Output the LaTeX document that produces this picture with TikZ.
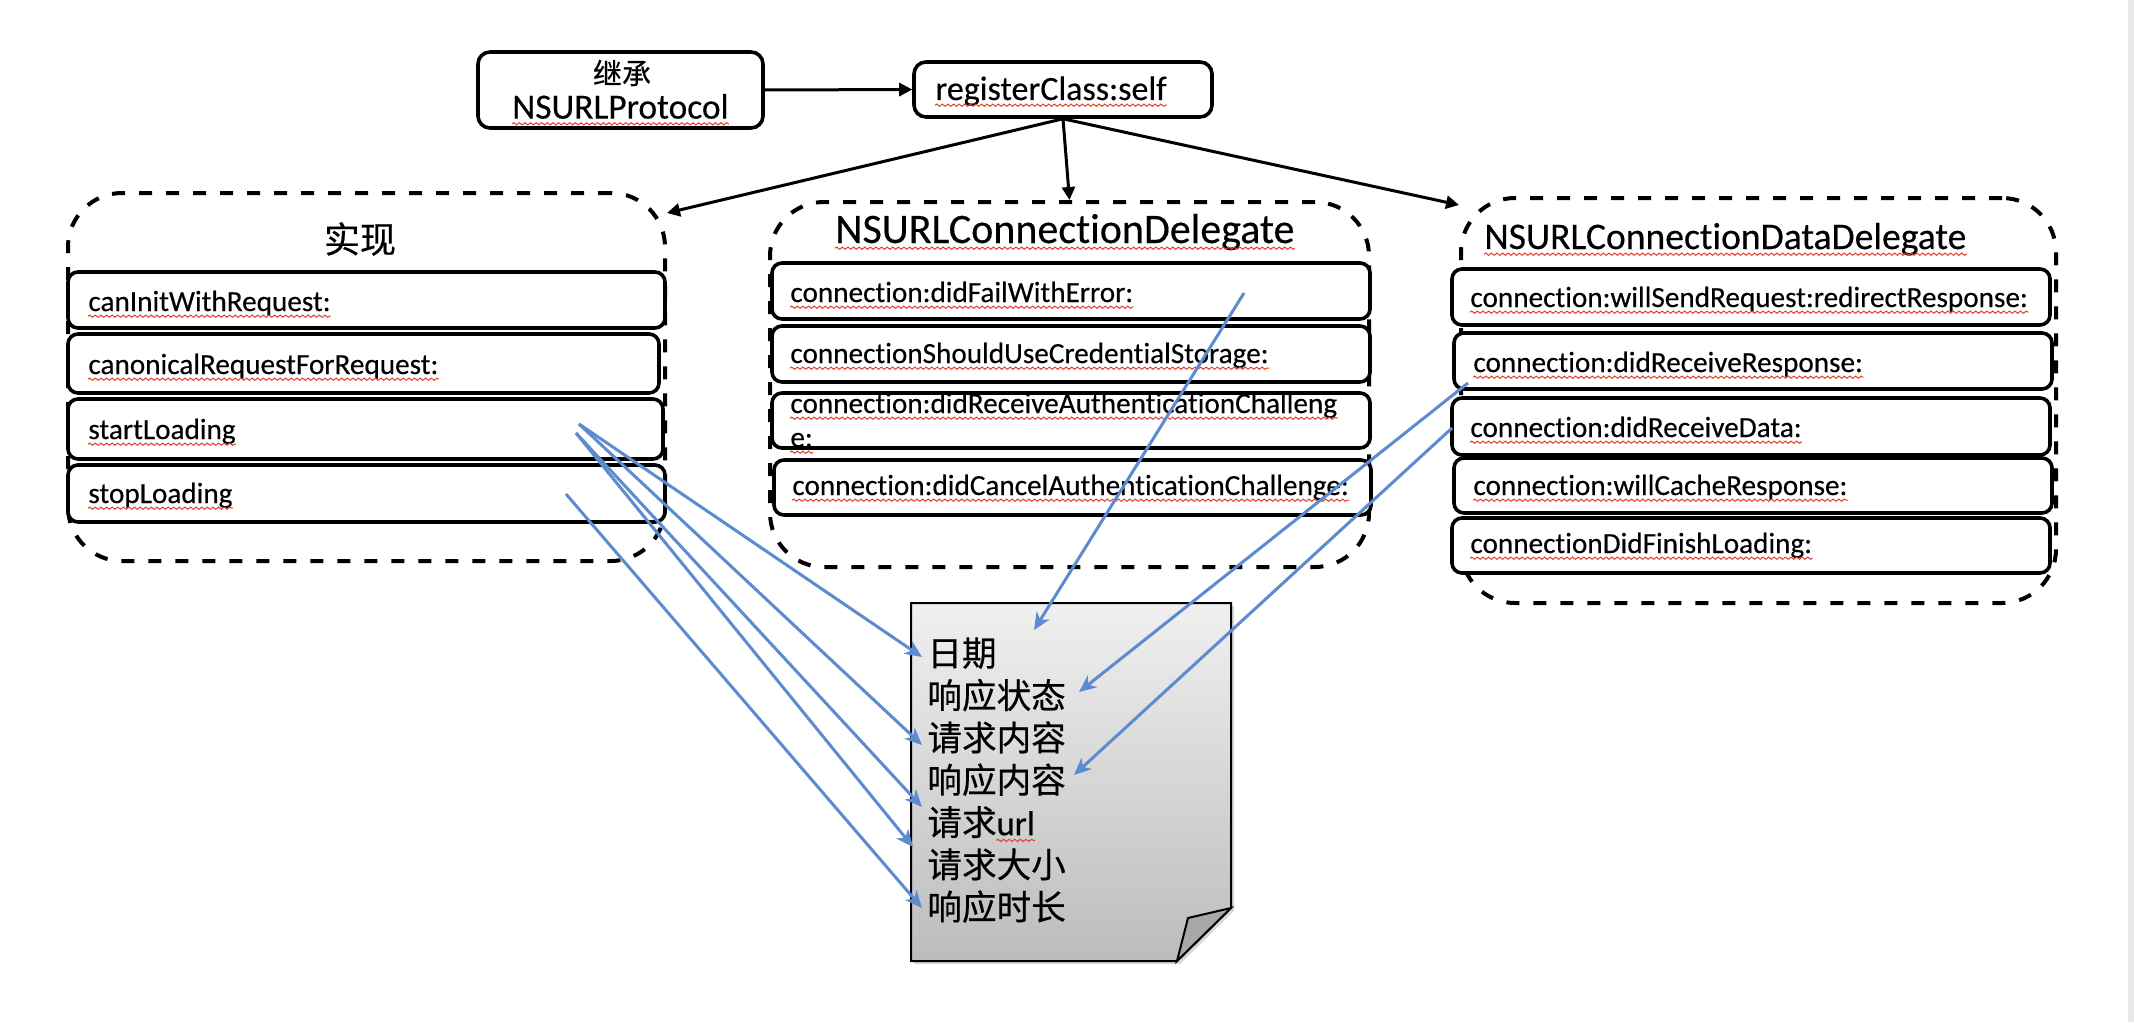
\documentclass[tikz,border=0pt]{standalone}
\usepackage{fontspec}
\setmainfont{Carlito}[Ligatures=NoCommon, FakeBold=0.35]
\newfontfamily\cjk{Noto Sans CJK SC}[FakeBold=0.5]
\newfontfamily\urlfont{Carlito}[Ligatures=NoCommon, FakeBold=0.5]
\usetikzlibrary{arrows.meta,decorations.pathmorphing,shadows}
\definecolor{bluec}{RGB}{93,139,207}
\definecolor{squigred}{RGB}{228,62,42}
\definecolor{docTop}{RGB}{240,240,240}
\definecolor{docBot}{RGB}{188,188,188}
\newcommand\fsz[1]{\fontsize{#1pt}{#1pt}\selectfont}
\newcommand\wavyunder[1]{\draw[squig] ([yshift=-2.6pt]#1.base west) -- ([yshift=-2.6pt]#1.base east);}
\begin{document}
\begin{tikzpicture}[x=0.5pt,y=-0.5pt,
  dashbox/.style={draw, line width=2pt, dash pattern=on 6.5pt off 7pt, rounded corners=27pt, inner sep=0pt},
  rowbox/.style={draw, fill=white, line width=1.8pt, rounded corners=5pt, inner sep=0pt},
  topbox/.style={draw, fill=white, line width=1.8pt, rounded corners=6pt, inner sep=0pt},
  rowtxt/.style={inner sep=0pt, anchor=base west, font=\fsz{14.6}},
  doctxt/.style={inner sep=0pt, anchor=base west, font=\cjk\fsz{17.3}},
  blk/.style={line width=1.5pt, -{Triangle[length=6.5pt,width=6.5pt]}},
  blu/.style={draw=bluec, line width=1.5pt, -{Stealth[length=8.5pt,width=7.5pt,inset=2.5pt]}},
  squig/.style={draw=squigred, line width=0.5pt, decorate, decoration={snake, amplitude=0.55pt, segment length=2.8pt}},
]
\useasboundingbox (0,0) rectangle (2134,1022);
\fill[white] (0,0) rectangle (2134,1022);
\fill[gray!18] (2128,0) rectangle (2134,1022);

% top boxes
\node[topbox, minimum width=142.5pt, minimum height=38pt] (ji) at (620.5,90) {};
\node[inner sep=0pt, font=\cjk\fsz{14.5}] (jitxt) at (622,73) {继承};
\node[inner sep=0pt, anchor=base west, font=\fsz{17.7}] (nsp) at (512,118.6) {NSURLProtocol};
\node[topbox, minimum width=149pt, minimum height=27.5pt] (reg) at (1063,89.5) {};
\node[inner sep=0pt, anchor=base west, font=\fsz{17}] (regtxt) at (935,100) {registerClass:self};

% container boxes
\node[dashbox, minimum width=298.5pt, minimum height=184pt] (impl) at (366.5,377) {};
\node[dashbox, minimum width=299.5pt, minimum height=182.5pt] (deleg) at (1069.5,384.5) {};
\node[dashbox, minimum width=297.5pt, minimum height=202.5pt] (data) at (1758.5,400.5) {};

\node[inner sep=0pt, font=\cjk\fsz{18}] (impltitle) at (360,239) {实现};
\node[inner sep=0pt, anchor=base west, font=\fsz{21}] (delegtitle) at (835,243) {NSURLConnectionDelegate};
\node[inner sep=0pt, anchor=base west, font=\fsz{18.8}] (datatitle) at (1484,249) {NSURLConnectionDataDelegate};

% rows of 实现
\node[rowbox, minimum width=298.5pt, minimum height=28pt] (r11) at (366.5,300) {};
\node[rowbox, minimum width=295.5pt, minimum height=29.5pt] (r12) at (363.5,363.5) {};
\node[rowbox, minimum width=297.5pt, minimum height=30pt] (r13) at (365.5,429) {};
\node[rowbox, minimum width=298.5pt, minimum height=28.5pt] (r14) at (366.5,493.5) {};
\node[rowtxt] (t11) at (88,311) {canInitWithRequest:};
\node[rowtxt] (t12) at (88,374) {canonicalRequestForRequest:};
\node[rowtxt] (t13) at (88,439) {startLoading};
\node[rowtxt] (t14) at (88,503) {stopLoading};

% rows of NSURLConnectionDelegate
\node[rowbox, minimum width=299pt, minimum height=28pt] (r21) at (1071,291) {};
\node[rowbox, minimum width=299pt, minimum height=28pt] (r22) at (1071,354) {};
\node[rowbox, minimum width=299pt, minimum height=27.5pt] (r23) at (1071,420.5) {};
\node[rowbox, minimum width=298.5pt, minimum height=27.5pt] (r24) at (1072.5,487.5) {};
\node[rowtxt] (t21) at (790,302) {connection:didFailWithError:};
\node[rowtxt] (t22) at (790,363) {connectionShouldUseCredentialStorage:};
\node[rowtxt] (t23) at (790,413) {connection:didReceiveAuthenticationChalleng};
\node[rowtxt] (t23b) at (790,447) {e:};
\node[rowtxt] (t24) at (792,495) {connection:didCancelAuthenticationChallenge:};

% rows of NSURLConnectionDataDelegate
\node[rowbox, minimum width=299pt, minimum height=28pt] (r31) at (1751,297) {};
\node[rowbox, minimum width=299pt, minimum height=28pt] (r32) at (1753,361) {};
\node[rowbox, minimum width=299pt, minimum height=28.5pt] (r33) at (1751,426.5) {};
\node[rowbox, minimum width=299pt, minimum height=27.5pt] (r34) at (1753,485.5) {};
\node[rowbox, minimum width=299pt, minimum height=27.5pt] (r35) at (1751,545.5) {};
\node[rowtxt] (t31) at (1470,307) {connection:willSendRequest:redirectResponse:};
\node[rowtxt] (t32) at (1473,372) {connection:didReceiveResponse:};
\node[rowtxt] (t33) at (1470,437) {connection:didReceiveData:};
\node[rowtxt] (t34) at (1473,495) {connection:willCacheResponse:};
\node[rowtxt] (t35) at (1470,553) {connectionDidFinishLoading:};

% spelling underlines
\foreach \n in {nsp,regtxt,delegtitle,datatitle,t11,t12,t13,t14,t21,t22,t23,t23b,t24,t31,t32,t33,t34,t35}{\wavyunder{\n}}

% document
\path[draw, line width=1pt, top color=docTop, bottom color=docBot,
      drop shadow={opacity=0.3, shadow xshift=1.5pt, shadow yshift=-1.5pt}]
  (911,603) -- (1231,603) -- (1231,908) -- (1177,961) -- (911,961) -- cycle;
\filldraw[line width=1pt, fill=gray!68] (1231,908) -- (1188,918) -- (1177,961) -- cycle;
\node[doctxt] (d1) at (927,666) {日期};
\node[doctxt] (d2) at (927,708.3) {响应状态};
\node[doctxt] (d3) at (927,750.6) {请求内容};
\node[doctxt] (d4) at (927,792.9) {响应内容};
\node[doctxt] (d5) at (927,835.2) {请求{\urlfont url}};
\node[doctxt] (d6) at (927,877.5) {请求大小};
\node[doctxt] (d7) at (927,919.8) {响应时长};
\draw[squig] ([xshift=34.6pt,yshift=-2.6pt]d5.base west) -- ([yshift=-2.6pt]d5.base east);

% black arrows
\draw[blk] (ji.east) -- (reg.west);
\draw[blk] (reg.south) -- ([yshift=-11pt]impl.north east);
\draw[blk] (reg.south) -- (deleg.north);
\draw[blk] (reg.south) -- ([yshift=-4.5pt]data.north west);

% blue arrows
\coordinate (sA) at (579,424);
\coordinate (sB) at (576,433);
\coordinate (sC) at (566,494);
\coordinate (sD) at (1244,293);
\coordinate (sE) at (1468,383);
\coordinate (sF) at (1452,428);
\coordinate (e1) at (922,657);
\coordinate (e3) at (922,745);
\coordinate (e5) at (922,807);
\coordinate (e6) at (913,847);
\coordinate (e7) at (922,908);
\coordinate (eD) at (1034,630);
\coordinate (e2) at (1079,692);
\coordinate (e4) at (1074,775);
\draw[blu] (sA) -- (e1);
\draw[blu] (sA) -- (e3);
\draw[blu] (sB) -- (e5);
\draw[blu] (sB) -- (e6);
\draw[blu] (sC) -- (e7);
\draw[blu] (sD) -- (eD);
\draw[blu] (sE) -- (e2);
\draw[blu] (sF) -- (e4);
\end{tikzpicture}
\end{document}
